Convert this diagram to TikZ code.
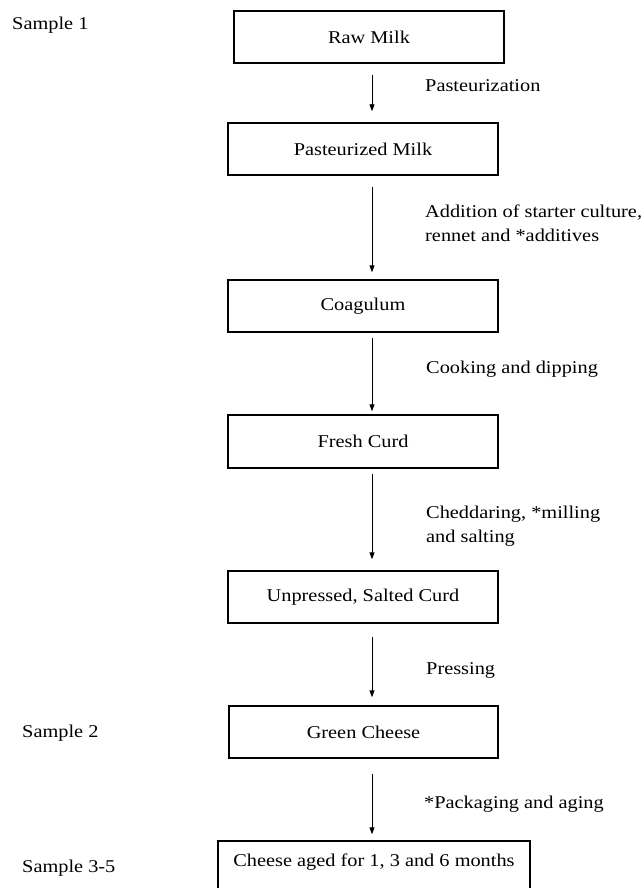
\documentclass[tikz,border=0pt]{standalone}
\usepackage{fontspec}
\setmainfont{Liberation Serif}[FakeStretch=1.13]
\usetikzlibrary{arrows.meta,calc}
\begin{document}
\begin{tikzpicture}[x=1pt,y=-1pt,
  box/.style={draw, line width=1.4pt, minimum width=270pt, minimum height=52pt, inner sep=0pt, font=\fontsize{18}{22}\selectfont},
  lbl/.style={anchor=base west, align=left, inner sep=0pt, font=\fontsize{18}{24}\selectfont},
  arr/.style={line width=0.9pt, -{Triangle[length=7pt,width=5pt]}}]
\useasboundingbox (0,0) rectangle (644,888);
\clip (0,0) rectangle (644,888);
\coordinate (ax) at (372,0);
\node[box] (n1) at (369,37) {Raw Milk};
\node[box] (n2) at (363,149) {Pasteurized Milk};
\node[box] (n3) at (363,306) {Coagulum};
\node[box, minimum height=53pt] (n4) at (363,441.5) {Fresh Curd};
\node[box] (n5) at (363,597) {Unpressed, Salted Curd};
\node[box, minimum width=269pt] (n6) at (363.5,732) {Green Cheese};
\node[box, minimum width=312pt, text height=25pt, text depth=27pt] (n7) at (374,867) {Cheese aged for 1, 3 and 6 months};
\draw[arr, shorten <=11pt, shorten >=11pt] (n1.south -| ax) -- (n2.north -| ax);
\draw[arr, shorten <=11pt, shorten >=7pt] (n2.south -| ax) -- (n3.north -| ax);
\draw[arr, shorten <=5pt, shorten >=3pt] (n3.south -| ax) -- (n4.north -| ax);
\draw[arr, shorten <=5pt, shorten >=11pt] (n4.south -| ax) -- (n5.north -| ax);
\draw[arr, shorten <=13pt, shorten >=8pt] (n5.south -| ax) -- (n6.north -| ax);
\draw[arr, shorten <=15pt, shorten >=6pt] (n6.south -| ax) -- (n7.north -| ax);
\node[lbl] (l1) at (425,92) {Pasteurization};
\node[lbl] (l2) at (425,241) {Addition of starter culture,\\rennet and *additives};
\node[lbl] (l3) at (426,373) {Cooking and dipping};
\node[lbl] (l4) at (426,542) {Cheddaring, *milling\\and salting};
\node[lbl] (l5) at (426,674) {Pressing};
\node[lbl] (l6) at (424,808) {*Packaging and aging};
\node[lbl] (s1) at (12,30) {Sample 1};
\node[lbl] (s2) at (22,737) {Sample 2};
\node[lbl] (s3) at (22,872) {Sample 3-5};
\end{tikzpicture}
\end{document}
